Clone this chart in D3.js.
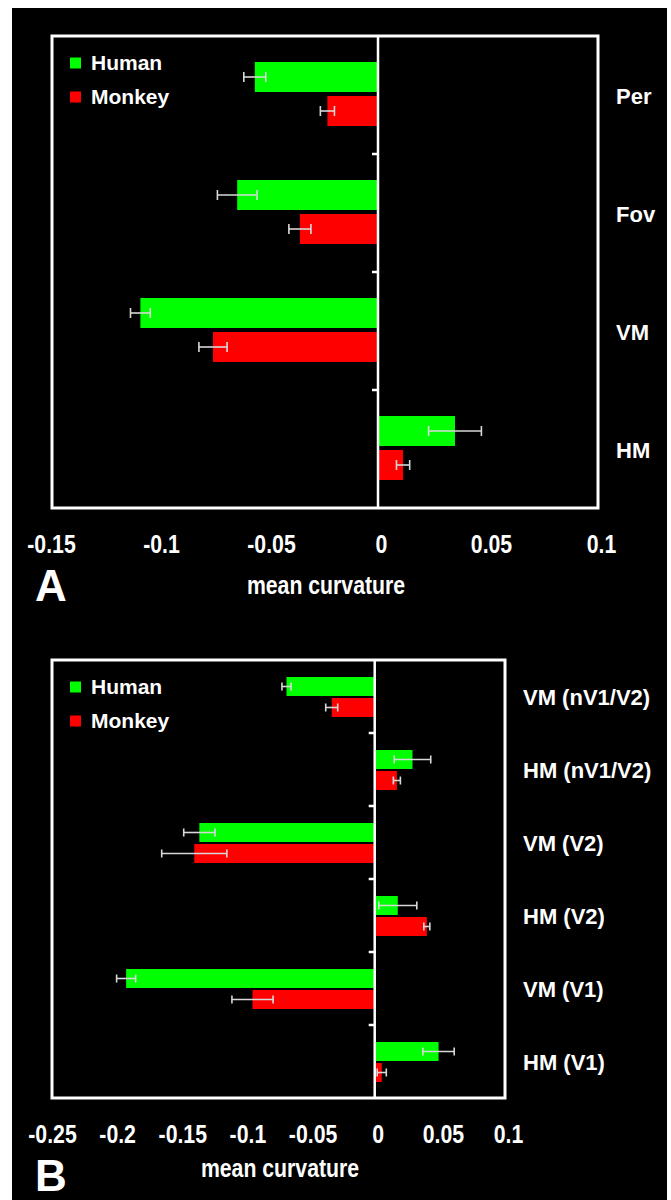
<!DOCTYPE html>
<html><head><meta charset="utf-8">
<script src="https://cdn.jsdelivr.net/npm/d3@7"></script>
<style>
html,body{margin:0;padding:0;background:#fff;}
svg{display:block;}
</style></head>
<body>
<script>
// ---------- DATA ----------
const seriesNames = ["Human", "Monkey"];
const seriesColors = ["#00ff00", "#ff0000"];

const categoriesA = ["Per", "Fov", "VM", "HM"];
const humanA      = [-0.056, -0.064, -0.108, 0.035];
const humanErrA   = [0.005, 0.009, 0.0045, 0.012];
const monkeyA     = [-0.023, -0.0355, -0.075, 0.0114];
const monkeyErrA  = [0.0032, 0.005, 0.0064, 0.003];
const ticksA      = [-0.15, -0.1, -0.05, 0, 0.05, 0.1];
const tickLabelsA = ["-0.15", "-0.1", "-0.05", "0", "0.05", "0.1"];

const categoriesB = ["VM (nV1/V2)", "HM (nV1/V2)", "VM (V2)", "HM (V2)", "VM (V1)", "HM (V1)"];
const humanB      = [-0.0677, 0.029, -0.1346, 0.0177, -0.1908, 0.049];
const humanErrB   = [0.0035, 0.014, 0.012, 0.0146, 0.0073, 0.012];
const monkeyB     = [-0.033, 0.017, -0.1385, 0.04, -0.0938, 0.0054];
const monkeyErrB  = [0.0046, 0.0027, 0.025, 0.0023, 0.0158, 0.0035];
const ticksB      = [-0.25, -0.2, -0.15, -0.1, -0.05, 0, 0.05, 0.1];
const tickLabelsB = ["-0.25", "-0.2", "-0.15", "-0.1", "-0.05", "0", "0.05", "0.1"];

const axisTitle = "mean curvature";

// ---------- DRAW ----------
const W = 671, H = 1200;
const svg = d3.select("body").append("svg").attr("width", W).attr("height", H);
svg.append("rect").attr("x", 0).attr("y", 0).attr("width", W).attr("height", H).attr("fill", "#fff");
svg.append("rect").attr("x", 12).attr("y", 8).attr("width", 655).attr("height", 1192).attr("fill", "#000");

const LBL = "'Liberation Sans', Arial, sans-serif";

function panel(cfg) {
  const g = svg.append("g");
  const x = d3.scaleLinear().domain(cfg.domain).range(cfg.xrange);
  const y = d3.scaleBand().domain(cfg.categories).range([cfg.top, cfg.bottom]);
  const sub = d3.scaleBand().domain(seriesNames).range(cfg.subRange).paddingInner(cfg.subPad);
  const x0 = x(0);

  // box
  g.append("rect").attr("x", cfg.boxLeft).attr("y", cfg.top)
    .attr("width", cfg.xrange[1] - cfg.boxLeft).attr("height", cfg.bottom - cfg.top)
    .attr("fill", "none").attr("stroke", "#fff").attr("stroke-width", 3);

  const data = [];
  cfg.categories.forEach((c, i) => {
    data.push({cat: c, s: "Human", v: cfg.human[i], e: cfg.humanErr[i], col: seriesColors[0]});
    data.push({cat: c, s: "Monkey", v: cfg.monkey[i], e: cfg.monkeyErr[i], col: seriesColors[1]});
  });

  // bars
  g.selectAll("rect.bar").data(data).join("rect").attr("class", "bar")
    .attr("x", d => Math.min(x(d.v), x0))
    .attr("width", d => Math.abs(x(d.v) - x0))
    .attr("y", d => y(d.cat) + sub(d.s))
    .attr("height", sub.bandwidth())
    .attr("fill", d => d.col);

  // error bars
  const eg = g.selectAll("g.err").data(data).join("g").attr("class", "err")
    .attr("stroke", "#d8d8d8").attr("stroke-width", 1.6);
  eg.append("line")
    .attr("x1", d => x(d.v - d.e)).attr("x2", d => x(d.v + d.e))
    .attr("y1", d => y(d.cat) + sub(d.s) + sub.bandwidth() / 2)
    .attr("y2", d => y(d.cat) + sub(d.s) + sub.bandwidth() / 2);
  [-1, 1].forEach(sg => {
    eg.append("line")
      .attr("x1", d => x(d.v + sg * d.e)).attr("x2", d => x(d.v + sg * d.e))
      .attr("y1", d => y(d.cat) + sub(d.s) + sub.bandwidth() / 2 - cfg.cap)
      .attr("y2", d => y(d.cat) + sub(d.s) + sub.bandwidth() / 2 + cfg.cap);
  });

  // zero line
  g.append("line").attr("x1", x0).attr("x2", x0).attr("y1", cfg.top).attr("y2", cfg.bottom)
    .attr("stroke", "#fff").attr("stroke-width", 2.5);
  // category separator ticks
  cfg.categories.slice(1).forEach(c => {
    g.append("line").attr("x1", x0 - 6).attr("x2", x0).attr("y1", y(c)).attr("y2", y(c))
      .attr("stroke", "#fff").attr("stroke-width", 2.5);
  });

  // x tick labels via axis (condensed bold look)
  const ax = g.append("g").attr("transform", `translate(${cfg.tickDx},${cfg.tickY})`)
    .call(d3.axisBottom(x).tickValues(cfg.ticks).tickSize(0)
      .tickFormat((d, i) => cfg.tickLabels[i]));
  ax.select(".domain").remove();
  ax.selectAll("text").attr("y", 0).attr("dy", "0.35em")
    .attr("transform", "scale(0.85,1)")
    .attr("fill", "#fff").attr("font-family", LBL).attr("font-weight", "bold")
    .attr("font-size", cfg.tickSize);

  // category labels
  g.selectAll("text.cat").data(cfg.categories).join("text").attr("class", "cat")
    .attr("x", cfg.labelX).attr("y", d => y(d) + y.bandwidth() / 2 + cfg.labelDy)
    .attr("dy", "0.35em")
    .attr("fill", "#fff").attr("font-family", LBL).attr("font-weight", "bold")
    .attr("font-size", 22).text(d => d);

  // legend
  seriesNames.forEach((s, i) => {
    const ly = cfg.top + 27 + i * 34;
    g.append("rect").attr("x", 70).attr("y", ly - 5.5).attr("width", 11).attr("height", 11)
      .attr("fill", seriesColors[i]);
    g.append("text").attr("x", 91).attr("y", ly).attr("dy", "0.35em")
      .attr("fill", "#fff").attr("font-family", LBL).attr("font-weight", "bold")
      .attr("font-size", 21).text(s);
  });

  // axis title
  g.append("g").attr("transform", `translate(${cfg.titleX},${cfg.titleY}) scale(0.85,1)`)
    .append("text").attr("x", 0).attr("y", 0).attr("dy", "0.35em")
    .attr("text-anchor", "middle").attr("fill", "#fff").attr("font-family", LBL)
    .attr("font-weight", "bold").attr("font-size", 25).text(axisTitle);

  // panel letter
  g.append("text").attr("x", 35).attr("y", cfg.letterY).attr("dy", "0.35em")
    .attr("fill", "#fff").attr("font-family", LBL).attr("font-weight", "bold")
    .attr("font-size", 44).text(cfg.letter);
}

panel({
  categories: categoriesA, human: humanA, humanErr: humanErrA, monkey: monkeyA, monkeyErr: monkeyErrA,
  ticks: ticksA, tickLabels: tickLabelsA,
  domain: [-0.15, 0.1], xrange: [48, 598], boxLeft: 52,
  top: 36, bottom: 508, subRange: [26, 90], subPad: 0.1176, cap: 5,
  tickDx: 3, tickY: 544, tickSize: 25,
  labelX: 616, labelDy: 1,
  titleX: 326, titleY: 585, letter: "A", letterY: 586
});

panel({
  categories: categoriesB, human: humanB, humanErr: humanErrB, monkey: monkeyB, monkeyErr: monkeyErrB,
  ticks: ticksB, tickLabels: tickLabelsB,
  domain: [-0.25, 0.1], xrange: [49, 505], boxLeft: 52,
  top: 660, bottom: 1098, subRange: [17, 57], subPad: 0.095, cap: 4,
  tickDx: 3, tickY: 1134, tickSize: 25,
  labelX: 523, labelDy: 1,
  titleX: 280, titleY: 1168, letter: "B", letterY: 1176
});
</script>
</body></html>
